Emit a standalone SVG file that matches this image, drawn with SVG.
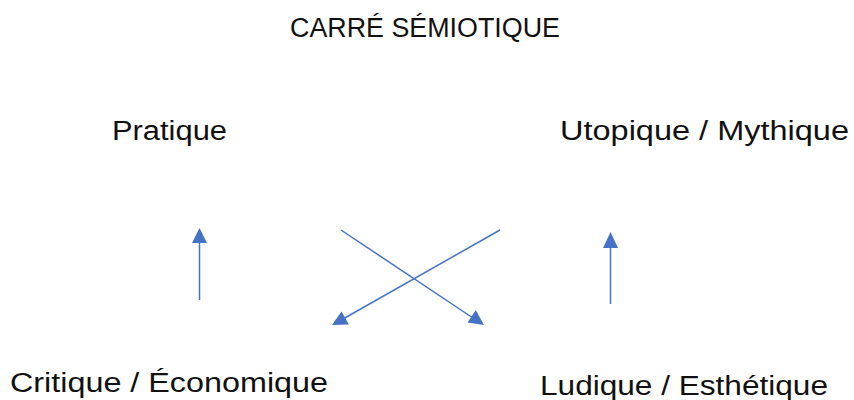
<svg xmlns="http://www.w3.org/2000/svg" width="854" height="400" viewBox="0 0 854 400">
<style>
text{font-family:"Liberation Sans","DejaVu Sans",sans-serif;font-size:27px;fill:#111;}
.c line{stroke:#4472C4;stroke-width:1.5;}
.h{fill:#4472C4;}
</style>
<rect width="854" height="400" fill="#fff"/>
<g id="title"><text x="290" y="37" textLength="270" lengthAdjust="spacingAndGlyphs">CARRÉ SÉMIOTIQUE</text></g>
<g id="pratique"><text x="112" y="140" textLength="115" lengthAdjust="spacingAndGlyphs">Pratique</text></g>
<g id="utopique"><text x="560" y="140" textLength="289" lengthAdjust="spacingAndGlyphs">Utopique / Mythique</text></g>
<g id="critique"><text x="10" y="392" textLength="318" lengthAdjust="spacingAndGlyphs">Critique / Économique</text></g>
<g id="ludique"><text x="540" y="395" textLength="288" lengthAdjust="spacingAndGlyphs">Ludique / Esthétique</text></g>
<g id="connectors" class="c">
<line x1="199.5" y1="300" x2="199.5" y2="240"/>
<polygon class="h" points="199.5,228 192,243 207,243"/>
<line x1="610.5" y1="304" x2="610.5" y2="244"/>
<polygon class="h" points="610.5,232 603,248 618,248"/>
<line x1="341" y1="230" x2="473" y2="318"/>
<polygon class="h" points="484,325 467.5,322.5 475.8,310"/>
<line x1="500" y1="230" x2="343" y2="319"/>
<polygon class="h" points="332,325 341.5,311.5 348.9,324.5"/>
</g>
</svg>
